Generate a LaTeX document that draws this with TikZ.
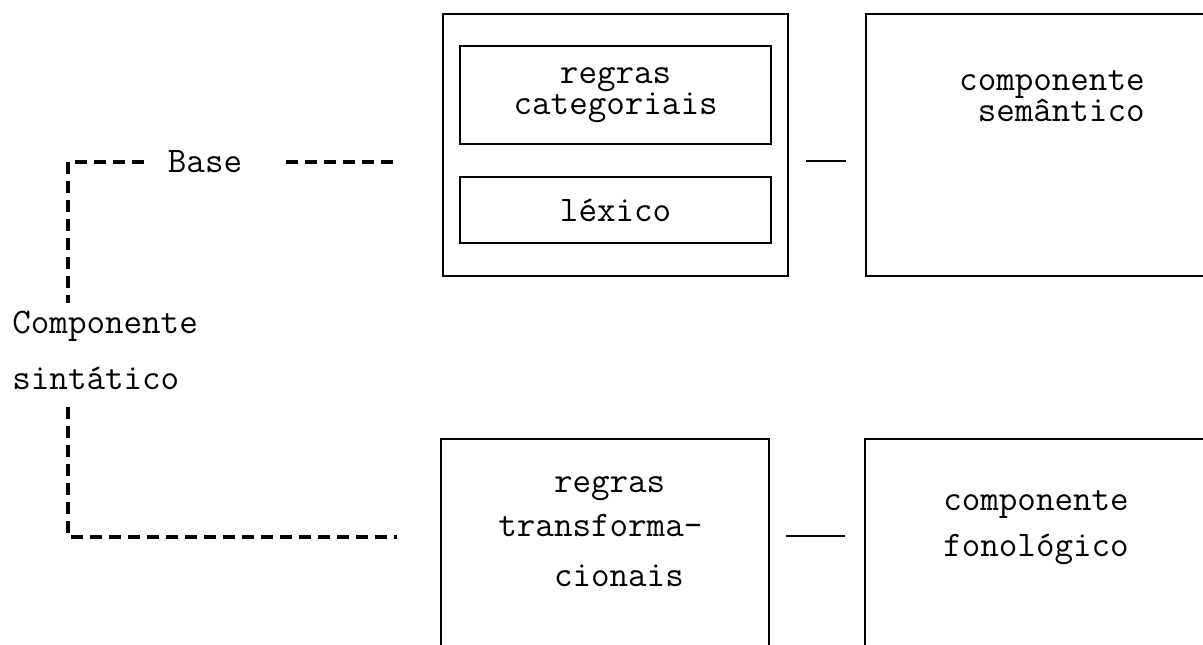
\documentclass[tikz,border=0pt]{standalone}
\usepackage{fontspec}
\newcommand\tfs[1]{\ttfamily\addfontfeatures{FakeBold=0.6}\fontsize{18}{#1}\selectfont}
\begin{document}
\begin{tikzpicture}[x=0.5pt,y=-0.5pt,
  box/.style={draw, line width=1.1pt, inner sep=0pt, anchor=north west},
  txt/.style={font=\tfs{15.5pt}, inner sep=0pt},
  dashline/.style={line width=1.6pt, dash pattern=on 6pt off 3.5pt},
  link/.style={line width=1pt}]
\useasboundingbox (0,0) rectangle (1203,644);
\clip (0,0) rectangle (1203,644);
% boxes
\node[box, minimum width=172.5pt, minimum height=131pt] (outer) at (442,13) {};
\node[box, txt, align=center, minimum width=155.5pt, minimum height=49pt] (cat) at (459,45) {regras\\categoriais};
\node[box, txt, minimum width=155.5pt, minimum height=33pt] (lex) at (459,176) {léxico};
\node[box, minimum width=200pt, minimum height=131pt] (sem) at (865,13) {};
\node[txt, align=right, anchor=east, font=\tfs{15.5pt}] (semt) at (1145,96) {componente\\semântico};
\node[box, minimum width=164pt, minimum height=150pt] (trans) at (440,438) {};
\node[txt, align=left, anchor=west, font=\tfs{22pt}] (transt) at (498,532) {\phantom{rrr}regras\\transforma-\\[3pt]\phantom{rrr}cionais};
\node[box, minimum width=200pt, minimum height=150pt] (fon) at (864,438) {};
\node[txt, align=center, font=\tfs{23pt}] (fonx) at (1036,528) {componente\\fonológico};
% left labels
\node[txt, align=left, anchor=west, font=\tfs{28pt}] (syn) at (12,350) {Componente\\sintático};
\node[txt] (basel) at (205,162) {Base};
% dashed brackets
\coordinate (c1) at (68,162);
\coordinate (d1) at (68,303);
\coordinate (d2) at (68,407);
\coordinate (c2) at (68,537);
\coordinate (e1) at (397,162);
\coordinate (e2) at (397,537);
\draw[dashline] ([xshift=-12pt]basel.west) -- (c1) -- (d1);
\draw[dashline] ([xshift=22pt]basel.east) -- (e1);
\draw[dashline] (d2) -- (c2) -- (e2);
% connectors
\coordinate (k1a) at (806,161);
\coordinate (k1b) at (846,161);
\coordinate (k2a) at (786,536);
\coordinate (k2b) at (845,536);
\draw[link] (k1a) -- (k1b);
\draw[link] (k2a) -- (k2b);
\end{tikzpicture}
\end{document}
